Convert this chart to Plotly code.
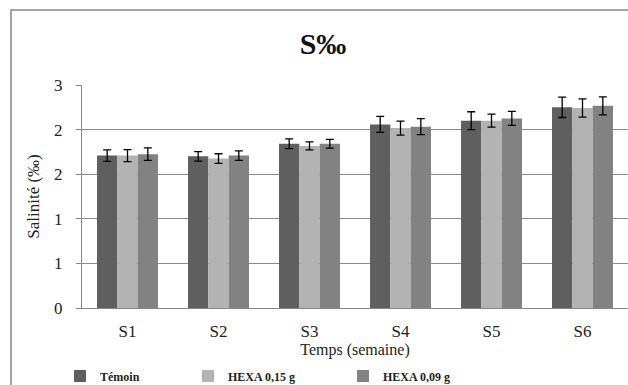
import plotly.graph_objects as go

categories = ["S1", "S2", "S3", "S4", "S5", "S6"]
temoin = [2.05, 2.04, 2.21, 2.47, 2.52, 2.70]
hexa015 = [2.05, 2.01, 2.18, 2.42, 2.52, 2.69]
hexa009 = [2.07, 2.05, 2.21, 2.44, 2.55, 2.72]
err_temoin = [0.077, 0.065, 0.065, 0.108, 0.12, 0.137]
err_hexa015 = [0.08, 0.065, 0.054, 0.094, 0.087, 0.123]
err_hexa009 = [0.085, 0.065, 0.058, 0.108, 0.094, 0.121]
ytick_vals = [0, 0.6, 1.2, 1.8, 2.4, 3.0]
ytick_text = ["0", "1", "1", "2", "2", "3"]

serif = "Liberation Serif"

series = [
    ("Témoin", temoin, err_temoin, "#5f5f5f", "legend"),
    ("HEXA 0,15 g", hexa015, err_hexa015, "#b3b3b3", "legend2"),
    ("HEXA 0,09 g", hexa009, err_hexa009, "#828282", "legend3"),
]

fig = go.Figure()
for name, vals, errs, col, lg in series:
    fig.add_trace(go.Bar(
        x=categories, y=vals, name="<b>" + name + "</b>",
        marker=dict(color=col, line=dict(width=0)),
        error_y=dict(type="data", array=errs, color="black", thickness=1.3, width=4),
        legend=lg, showlegend=True, hoverinfo="skip",
    ))

PW = 546.0
leg_common = dict(orientation="h", yanchor="middle", y=-(376 - 308) / 223, xanchor="left",
                  font=dict(family=serif, size=12, color="#222"), bgcolor="rgba(0,0,0,0)",
                  itemwidth=30, tracegroupgap=0)

fig.update_layout(
    width=628, height=385,
    margin=dict(l=82, r=0, t=85, b=77, autoexpand=False),
    paper_bgcolor="white", plot_bgcolor="white",
    showlegend=True,
    barmode="group", bargap=0.33, bargroupgap=0,
    font=dict(family=serif, color="#111"),
    title=dict(text="<b>S‰</b>", x=(323 - 82) / PW, xref="paper", xanchor="center",
               y=1 - 43 / 385, yanchor="middle",
               font=dict(family=serif, size=30, color="#111")),
    xaxis=dict(showgrid=False, showline=True, linecolor="#888", linewidth=1,
               tickfont=dict(family=serif, size=17, color="#222"), ticklabelstandoff=8,
               title=dict(text="Temps (semaine)", font=dict(family=serif, size=16, color="#222"), standoff=2),
               ticks="", ),
    yaxis=dict(range=[0, 3.0], tickvals=ytick_vals, ticktext=ytick_text,
               showgrid=True, gridcolor="#8c8c8c", gridwidth=1,
               showline=True, linecolor="#888", linewidth=1,
               ticks="outside", ticklen=5, tickcolor="#888",
               tickfont=dict(family=serif, size=17, color="#222"), ticklabelstandoff=10,
               title=dict(text="Salinité (‰)", font=dict(family=serif, size=17, color="#222"), standoff=10),
               zeroline=False),
    legend=dict(x=(60 - 82) / PW, **leg_common),
    legend2=dict(x=(188 - 82) / PW, **leg_common),
    legend3=dict(x=(343 - 82) / PW, **leg_common),
    shapes=[dict(type="rect", xref="paper", yref="paper",
                 x0=-71 / PW, x1=1.2, y0=-0.5, y1=(308 - 10) / 223,
                 line=dict(color="#888", width=1.5), layer="below")],
)

fig.write_html("out.html", config={"displayModeBar": False},
               post_script="document.body.style.margin='0';document.body.style.overflow='hidden';")
